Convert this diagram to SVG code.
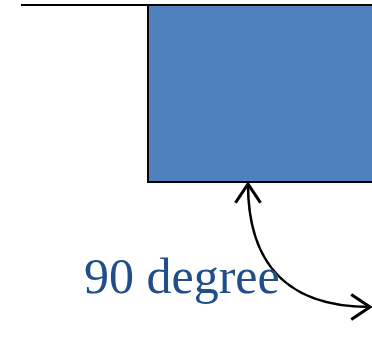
<svg xmlns="http://www.w3.org/2000/svg" width="372" height="361" viewBox="0 0 372 361">
<style>
.ln{stroke:#000;stroke-width:2;fill:none}
.arc{stroke:#000;stroke-width:2.5;fill:none}
.lbl{font-family:"Liberation Serif","Times New Roman",serif;font-size:50px;fill:#1F4E8A}
</style>
<defs>
<marker id="arr" markerUnits="userSpaceOnUse" markerWidth="30" markerHeight="30" refX="0" refY="0" viewBox="-16 -12 18 24" orient="auto-start-reverse" overflow="visible">
<path d="M-15,-10 L0,0 L-15,10" fill="none" stroke="#000" stroke-width="2.5" stroke-linejoin="miter"/>
</marker>
</defs>
<rect width="372" height="361" fill="#fff"/>
<g id="block">
<rect x="148" y="5" width="226" height="177" fill="#4F81BD" stroke="#000" stroke-width="2"/>
</g>
<g id="ground">
<line class="ln" x1="21" y1="5" x2="372" y2="5"/>
</g>
<g id="connectors">
<path class="arc" d="M248,184 C248,250 275,307 370,307" marker-start="url(#arr)" marker-end="url(#arr)"/>
</g>
<g id="label">
<text class="lbl" x="84" y="293">90 degree</text>
</g>
</svg>
